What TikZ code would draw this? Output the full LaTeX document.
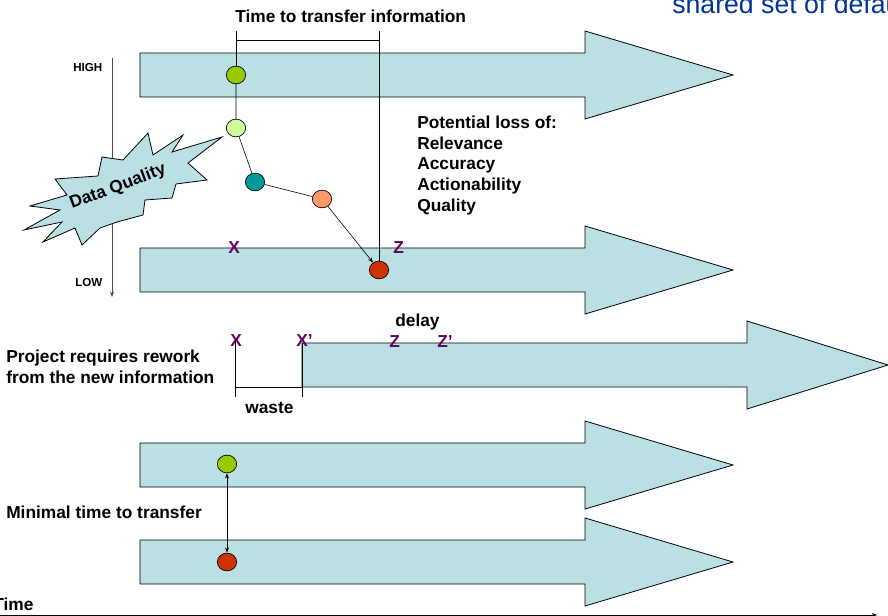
\documentclass[tikz,border=0pt]{standalone}
\usepackage{fontspec}
\setmainfont{Liberation Sans}
\usepackage{xcolor}
\usetikzlibrary{
    arrows.meta,
    shapes,
    calc,
    positioning
}
\definecolor{bandblue}{RGB}{187,224,227}
\definecolor{xpurple}{RGB}{102,0,102}
\definecolor{titleblue}{RGB}{0,51,153}
\definecolor{hilime}{RGB}{153,204,0}
\definecolor{palelime}{RGB}{204,255,153}
\definecolor{tealdot}{RGB}{0,153,153}
\definecolor{peach}{RGB}{255,153,102}
\definecolor{rust}{RGB}{204,51,0}

\begin{document}
\begin{tikzpicture}[x=0.75pt, y=-0.75pt, >={Stealth[length=4pt, width=3pt]},
    band/.style={draw, fill=bandblue, line width=0.6pt},
    dot/.style={draw, ellipse, minimum width=14.5pt, minimum height=13.3pt, inner sep=0pt, line width=0.5pt},
    txt/.style={inner sep=0pt, font=\fontsize{13}{15.6}\selectfont\bfseries},
    small/.style={inner sep=0pt, font=\fontsize{8.7}{10}\selectfont\bfseries},
    xlbl/.style={txt, text=xpurple},
    link/.style={line width=0.45pt}]
    \useasboundingbox (0,0) rectangle (888,616);

    % time bands
    \foreach \bx/\by/\hx/\tx in {140/75/585/733, 140/270/585/733, 302/365/747/888, 140/465/585/733, 140/562/585/733}
        \draw[band] (\bx,\by-22) -- (\hx,\by-22) -- (\hx,\by-44) -- (\tx,\by) -- (\hx,\by+44) -- (\hx,\by+22) -- (\bx,\by+22) -- cycle;

    % axes
    \coordinate (ax0) at (112,58);
    \coordinate (ax1) at (112,297);
    \coordinate (t0) at (0,615);
    \coordinate (t1) at (877,615);
    \draw[link, ->, black!70] (ax0) -- (ax1);
    \draw[link, ->] (t0) -- (t1);

    % data quality burst
    \draw[band] (222,137) -- (188,163) -- (207,180) -- (176,184) -- (172,198) -- (145,200) -- (143,215) -- (117,222) -- (100,228) -- (82,245) -- (75,228) -- (43,242) -- (62,222) -- (24,230) -- (60,210) -- (30,206) -- (67,195) -- (55,179) -- (98,176) -- (102,157) -- (123,160) -- (148,133) -- (153,155) -- (183,135) -- (172,152) -- cycle;
    \node[txt, rotate=20.6] (dq) at (118,187) {Data Quality};

    % dots
    \node[dot, fill=hilime] (g1) at (236,75) {};
    \node[dot, fill=palelime] (lg) at (236,128) {};
    \node[dot, fill=tealdot] (tl) at (255,182) {};
    \node[dot, fill=peach] (pc) at (322,199) {};
    \node[dot, fill=rust] (rd) at (379,270) {};
    \node[dot, fill=hilime] (g2) at (227,464) {};
    \node[dot, fill=rust] (rd2) at (227,562) {};

    % labels
    \node[txt, anchor=base west] (ttl) at (235,23) {Time to transfer information};
    \node[small, anchor=base west] (hi) at (73,72) {HIGH};
    \node[small, anchor=base west] (lo) at (75,287) {LOW};
    \node[txt, anchor=north west, align=left] (loss) at (417,115.5) {Potential loss of:\\Relevance\\Accuracy\\Actionability\\Quality};
    \node[xlbl, anchor=base west] (x1) at (228,254) {X};
    \node[xlbl, anchor=base west] (z1) at (393,254) {Z};
    \node[txt, anchor=base west] (dly) at (395,326) {delay};
    \node[xlbl, anchor=base west] (x2) at (230,346) {X};
    \node[xlbl, anchor=base west] (x2p) at (296,346) {X’};
    \node[xlbl, anchor=base west] (z2) at (389,347) {Z};
    \node[xlbl, anchor=base west] (z2p) at (437,347) {Z’};
    \node[txt, anchor=north west, align=left] (proj) at (6,349.5) {Project requires rework\\from the new information};
    \node[txt, anchor=base west] (wst) at (245,413) {waste};
    \node[txt, anchor=base west] (mini) at (6,518) {Minimal time to transfer};
    \node[txt, anchor=base west] (tm) at (-7,610) {Time};
    \node[anchor=base west, inner sep=0pt, text=titleblue, font=\fontsize{20}{24}\selectfont] (hdr) at (672,14) {shared set of default};

    % guide lines
    \coordinate (ttop) at (236,31);
    \coordinate (ztop) at (379,31);
    \coordinate (dl) at (236,40);
    \coordinate (dr) at (379,40);
    \coordinate (xtop) at (235,341);
    \coordinate (xbot) at (235,397);
    \coordinate (xptop) at (302,343);
    \coordinate (xpbot) at (302,397);
    \coordinate (wl) at (235,387);
    \coordinate (wr) at (302,387);

    \draw[link]
    (ttop) -- (g1)
    (ztop) -- (rd.north)
    (xtop) -- (xbot)
    (xptop) -- (xpbot);
    \draw[link, <->]
    (dl) -- (dr)
    (wl) -- (wr)
    (g2) -- (rd2);
    \draw[link, ->]
    (g1) -- (lg)
    (lg) -- (tl)
    (tl) -- (pc)
    (pc) -- (rd);
\end{tikzpicture}
\end{document}
